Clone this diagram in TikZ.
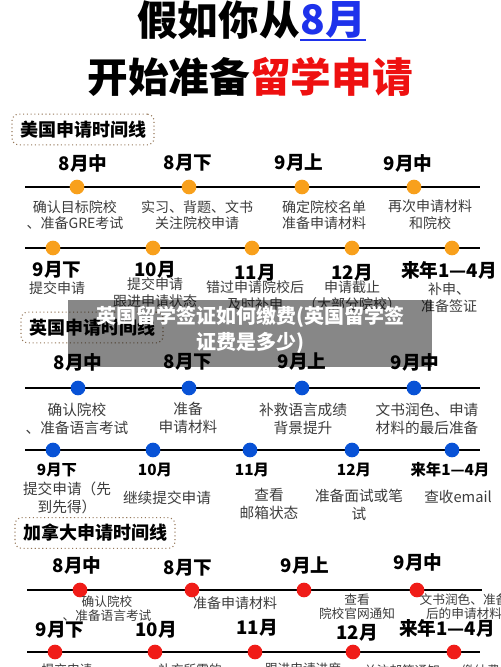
\documentclass[tikz,border=0pt]{standalone}
\usepackage{fontspec}
\setmainfont{Noto Sans CJK SC}
\definecolor{usorange}{RGB}{248,160,28}
\definecolor{ukblue}{RGB}{8,82,214}
\definecolor{cared}{RGB}{240,28,24}
\definecolor{titleblue}{RGB}{30,50,235}
\definecolor{titlered}{RGB}{238,16,16}
\definecolor{boxline}{RGB}{150,120,90}
\definecolor{desctxt}{RGB}{60,60,60}
\tikzset{
  tl/.style={line width=2.2pt},
  dot/.style={circle,inner sep=0pt,minimum size=11pt},
  secbox/.style={draw=boxline,dotted,thick,rounded corners=5pt,inner xsep=6pt,minimum height=23pt,font=\bfseries\fontsize{13.5}{15}\selectfont},
  mon/.style={font=\bfseries\fontsize{14}{16}\selectfont},
  monsm/.style={font=\bfseries\fontsize{11.5}{13}\selectfont},
  desc/.style={align=center,text=desctxt,font=\fontsize{10.5}{12.5}\selectfont},
  ukdesc/.style={align=center,text=desctxt,font=\fontsize{11}{13.5}\selectfont},
  cadesc/.style={align=center,text=desctxt,font=\fontsize{9.5}{10.5}\selectfont}
}
\begin{document}
\begin{tikzpicture}[x=0.75pt,y=-0.75pt]
\useasboundingbox (0,0) rectangle (500,667);
\clip (0,0) rectangle (500,667);
\fill[white] (0,0) rectangle (500,667);

\node[anchor=west,inner sep=0pt,font=\bfseries\fontsize{30.5}{32}\selectfont] (t1a) at (137,20) {假如你从};
\node[anchor=west,inner sep=0pt,text=titleblue,font=\bfseries\fontsize{30.5}{32}\selectfont] (t1b) at (t1a.east) {8月};
\draw[titleblue,line width=1.6pt] ([yshift=-1pt]t1b.south west) -- ([yshift=-1pt]t1b.south east);
\node[inner sep=0pt,font=\bfseries\fontsize{30.5}{32}\selectfont] (t2) at (250,77) {开始准备\textcolor{titlered}{留学申请}};

\node[secbox] (usbox) at (83,129.5) {美国申请时间线};
\coordinate (usA) at (25,187);
\coordinate (usB) at (480,187);
\draw[tl] (usA) -- (usB);
\node[dot,fill=usorange] (us1) at (77,187) {};
\node[dot,fill=usorange] (us2) at (189,187) {};
\node[dot,fill=usorange] (us3) at (302,187) {};
\node[dot,fill=usorange] (us4) at (414,187) {};
\node[mon] (usm1) at (83,163) {8月中};
\node[mon] (usm2) at (188,163) {8月下};
\node[mon] (usm3) at (299,163) {9月上};
\node[mon] (usm4) at (408,163) {9月中};
\node[desc] (usd1) at (75,215) {确认目标院校\\、准备GRE考试};
\node[desc] (usd2) at (197,215) {实习、背题、文书\\关注院校申请};
\node[desc] (usd3) at (324,215) {确定院校名单\\准备申请材料};
\node[desc] (usd4) at (430,215) {再次申请材料\\和院校};
\coordinate (usC) at (25,248);
\coordinate (usD) at (480,248);
\draw[tl] (usC) -- (usD);
\node[dot,fill=usorange] (us5) at (53,248) {};
\node[dot,fill=usorange] (us6) at (153,248) {};
\node[dot,fill=usorange] (us7) at (252,248) {};
\node[dot,fill=usorange] (us8) at (352,248) {};
\node[dot,fill=usorange] (us9) at (452,248) {};
\node[mon] (usm5) at (57,270) {9月下};
\node[mon] (usm6) at (155,270) {10月};
\node[mon] (usm7) at (255,273) {11月};
\node[mon] (usm8) at (352,273) {12月};
\node[mon] (usm9) at (449,270) {来年1—4月};
\node[desc] (usd5) at (57,288) {提交申请};
\node[desc] (usd6) at (155,292.5) {提交申请\\跟进申请状态};
\node[desc] (usd7) at (255,295.5) {错过申请院校后\\及时补申};
\node[desc] (usd8) at (352,295.5) {申请截止\\（大部分院校）};
\node[desc] (usd9) at (449,297.5) {补申、\\准备签证};

\node[secbox] (ukbox) at (92,327.5) {英国申请时间线};
\node[mon] (ukm1) at (78,362) {8月中};
\node[mon] (ukm2) at (188,362) {8月下};
\node[mon] (ukm3) at (302,362) {9月上};
\node[mon] (ukm4) at (415,362) {9月中};
\coordinate (ukA) at (25,388);
\coordinate (ukB) at (480,388);
\draw[tl] (ukA) -- (ukB);
\node[dot,fill=ukblue] (uk1) at (78,388) {};
\node[dot,fill=ukblue] (uk2) at (189,388) {};
\node[dot,fill=ukblue] (uk3) at (302,388) {};
\node[dot,fill=ukblue] (uk4) at (414,388) {};
\node[ukdesc] (ukd1) at (77,419) {确认院校\\、准备语言考试};
\node[ukdesc] (ukd2) at (188,418) {准备\\申请材料};
\node[ukdesc] (ukd3) at (303,419) {补救语言成绩\\背景提升};
\node[ukdesc] (ukd4) at (427,419) {文书润色、申请\\材料的最后准备};
\coordinate (ukC) at (25,450);
\coordinate (ukD) at (480,450);
\draw[tl] (ukC) -- (ukD);
\node[dot,fill=ukblue] (uk5) at (53,450) {};
\node[dot,fill=ukblue] (uk6) at (153,450) {};
\node[dot,fill=ukblue] (uk7) at (250,450) {};
\node[dot,fill=ukblue] (uk8) at (352,450) {};
\node[dot,fill=ukblue] (uk9) at (452,450) {};
\node[monsm] (ukm5) at (57,470) {9月下};
\node[monsm] (ukm6) at (155,470) {10月};
\node[monsm] (ukm7) at (252,470) {11月};
\node[monsm] (ukm8) at (354,470) {12月};
\node[monsm] (ukm9) at (450,470) {来年1—4月};
\node[ukdesc] (ukd5) at (67,497.5) {提交申请（先\\到先得）};
\node[ukdesc] (ukd6) at (167,498) {继续提交申请};
\node[ukdesc] (ukd7) at (269,504) {查看\\邮箱状态};
\node[ukdesc] (ukd8) at (359,505) {准备面试或笔\\试};
\node[ukdesc] (ukd9) at (458,497) {查收email};

\node[secbox] (cabox) at (95,533) {加拿大申请时间线};
\node[mon] (cam1) at (77,565) {8月中};
\node[mon] (cam2) at (188,568) {8月下};
\node[mon] (cam3) at (305,566) {9月上};
\node[mon] (cam4) at (418,562) {9月中};
\coordinate (caA) at (27,590);
\coordinate (caB) at (482,590);
\draw[tl] (caA) -- (caB);
\node[dot,fill=cared] (ca1) at (80,590) {};
\node[dot,fill=cared] (ca2) at (192,590) {};
\node[dot,fill=cared] (ca3) at (304,590) {};
\node[dot,fill=cared] (ca4) at (417,590) {};
\node[cadesc] (cad1) at (107,608.5) {确认院校\\、准备语言考试};
\node[cadesc,font=\fontsize{10.5}{12}\selectfont] (cad2) at (235,603) {准备申请材料};
\node[cadesc] (cad3) at (357,607) {查看\\院校官网通知};
\node[cadesc] (cad4) at (464,606.5) {文书润色、准备\\后的申请材料};
\node[mon] (cam5) at (60,630) {9月下};
\node[mon] (cam6) at (156,630) {10月};
\node[mon] (cam7) at (257,628) {11月};
\node[mon] (cam8) at (357,633) {12月};
\node[mon] (cam9) at (447,628) {来年1—4月};
\coordinate (caC) at (27,652);
\coordinate (caD) at (480,652);
\draw[tl] (caC) -- (caD);
\node[dot,fill=cared] (ca5) at (55,652) {};
\node[dot,fill=cared] (ca6) at (155,652) {};
\node[dot,fill=cared] (ca7) at (255,652) {};
\node[dot,fill=cared] (ca8) at (353,652) {};
\node[dot,fill=cared] (ca9) at (454,652) {};
\node[cadesc,anchor=north] (cad5) at (67,659) {提交申请};
\node[cadesc,anchor=north] (cad6) at (190,659) {补充所需的};
\node[cadesc,anchor=north] (cad7) at (303,658) {跟进申请进度};
\node[cadesc,anchor=north] (cad8) at (402,660) {关注邮箱通知};
\node[cadesc,anchor=north] (cad9) at (487,660) {缴纳费用};

\fill[black,fill opacity=0.47] (68,300) rectangle (432,367);
\node[align=center,text=white,font=\bfseries\fontsize{15}{19.5}\selectfont] (ovl) at (250,330) {英国留学签证如何缴费(英国留学签\\证费是多少)};
\end{tikzpicture}
\end{document}
